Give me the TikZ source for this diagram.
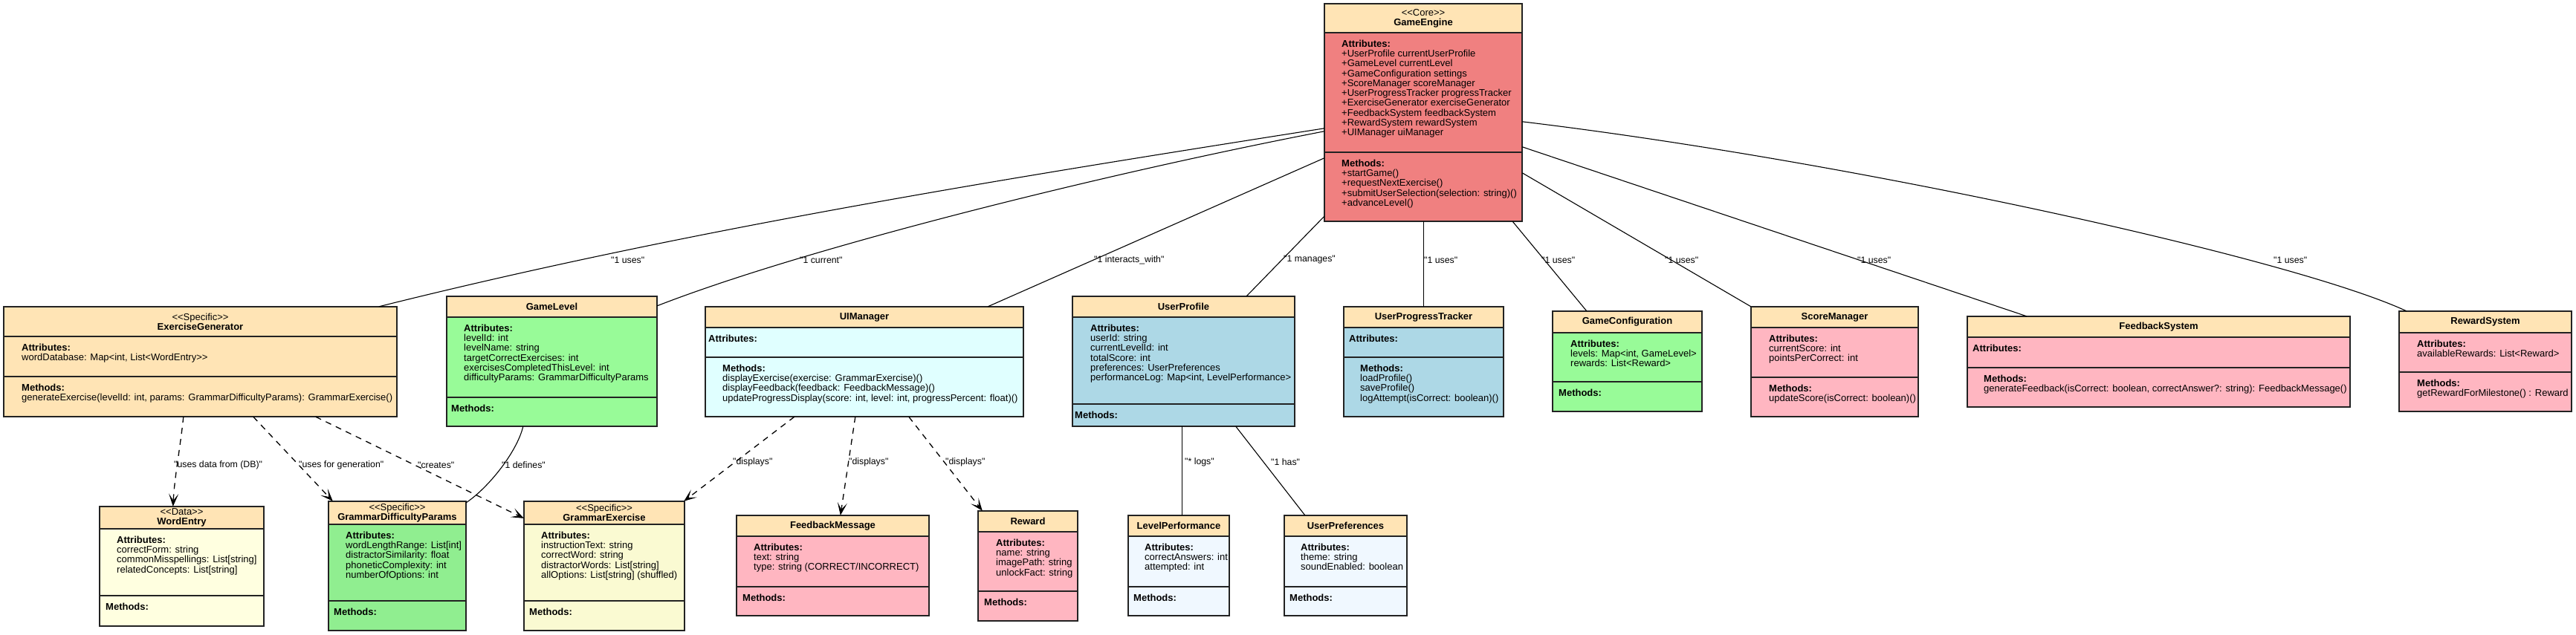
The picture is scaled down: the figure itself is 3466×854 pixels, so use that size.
\documentclass[tikz,border=0pt]{standalone}
\usepackage{fontspec}
\newfontfamily\lsans{Liberation Sans}
\usetikzlibrary{arrows.meta,fit}
\definecolor{moccasin}{HTML}{FFE4B5}
\definecolor{lcoral}{HTML}{F08080}
\definecolor{pgreen}{HTML}{98FB98}
\definecolor{lgreen}{HTML}{90EE90}
\definecolor{lcyan}{HTML}{E0FFFF}
\definecolor{lblue}{HTML}{ADD8E6}
\definecolor{lpink}{HTML}{FFB6C1}
\definecolor{lyellow}{HTML}{FFFFE0}
\definecolor{lgold}{HTML}{FAFAD2}
\definecolor{aliceb}{HTML}{F0F8FF}
\definecolor{bordercol}{HTML}{222222}
\tikzset{
 boxborder/.style={draw=bordercol, line width=1.6pt},
 sepline/.style={draw=bordercol, line width=1.6pt},
 htext/.style={font=\lsans\fontsize{13}{13}\selectfont, align=center, inner sep=0pt},
 stext/.style={font=\lsans\fontsize{13}{13.3}\selectfont, align=left, inner sep=0pt, anchor=north west},
 assoc/.style={draw=black, line width=1.1pt},
 dep/.style={draw=black, line width=1.3pt, dash pattern=on 8pt off 7pt, -{Stealth[length=17pt,width=13pt,inset=9pt,line width=0.8pt]}},
 elabel/.style={font=\lsans\fontsize{12.3}{13}\selectfont, inner sep=0pt, anchor=west},
}
\newcommand\umlbox[9]{%
 \coordinate (#1-nw) at (#2,#4);
 \coordinate (#1-se) at (#3,#7);
 \node[fit=(#1-nw)(#1-se), inner sep=0pt, fill=#8] (#1) {};
 \fill[moccasin] (#1.north west) rectangle (#3,#5);
 \draw[sepline] (#2,#5) -- (#3,#5) (#2,#6) -- (#3,#6);
 \draw[boxborder] (#1.north west) rectangle (#1.south east);
 \node[htext] (#1-h) at ({(#2+#3)/2},{(#4+#5)/2}) {#9};
}
\newcommand\sect[4]{\node[stext] (#1) at (#2,#3) {#4};}
\begin{document}
\begin{tikzpicture}[x=1pt,y=-1pt]
\useasboundingbox (0,0) rectangle (3466,854);
\fill[white] (0,0) rectangle (3466,854);

% ---- boxes ----
\umlbox{ge}{1782}{2048}{5}{44}{205}{298}{lcoral}{<<Core>>\\\textbf{GameEngine}}
\sect{ge-a}{1805}{53.5}{\textbf{Attributes:}\\+UserProfile currentUserProfile\\+GameLevel currentLevel\\+GameConfiguration settings\\+ScoreManager scoreManager\\+UserProgressTracker progressTracker\\+ExerciseGenerator exerciseGenerator\\+FeedbackSystem feedbackSystem\\+RewardSystem rewardSystem\\+UIManager uiManager}
\sect{ge-m}{1805}{214.5}{\textbf{Methods:}\\+startGame()\\+requestNextExercise()\\+submitUserSelection(selection: string)()\\+advanceLevel()}

\umlbox{eg}{5}{534}{413}{453}{507}{561}{moccasin}{<<Specific>>\\\textbf{ExerciseGenerator}}
\sect{eg-a}{29}{462.5}{\textbf{Attributes:}\\wordDatabase: Map<int, List<WordEntry>>}
\sect{eg-m}{29}{516.5}{\textbf{Methods:}\\generateExercise(levelId: int, params: GrammarDifficultyParams): GrammarExercise()}

\umlbox{gl}{601}{884}{399}{427}{535}{574}{pgreen}{\textbf{GameLevel}}
\sect{gl-a}{624}{436.5}{\textbf{Attributes:}\\levelId: int\\levelName: string\\targetCorrectExercises: int\\exercisesCompletedThisLevel: int\\difficultyParams: GrammarDifficultyParams}
\sect{gl-m}{607}{544.5}{\textbf{Methods:}}

\umlbox{ui}{949}{1377}{413}{441}{481}{561}{lcyan}{\textbf{UIManager}}
\sect{ui-a}{953}{450.5}{\textbf{Attributes:}}
\sect{ui-m}{972}{490.5}{\textbf{Methods:}\\displayExercise(exercise: GrammarExercise)()\\displayFeedback(feedback: FeedbackMessage)()\\updateProgressDisplay(score: int, level: int, progressPercent: float)()}

\umlbox{up}{1443}{1742}{399}{427}{544}{574}{lblue}{\textbf{UserProfile}}
\sect{up-a}{1467}{436.5}{\textbf{Attributes:}\\userId: string\\currentLevelId: int\\totalScore: int\\preferences: UserPreferences\\performanceLog: Map<int, LevelPerformance>}
\sect{up-m}{1446}{553.5}{\textbf{Methods:}}

\umlbox{upt}{1808}{2023}{413}{441}{481}{561}{lblue}{\textbf{UserProgressTracker}}
\sect{upt-a}{1815}{450.5}{\textbf{Attributes:}}
\sect{upt-m}{1830}{490.5}{\textbf{Methods:}\\loadProfile()\\saveProfile()\\logAttempt(isCorrect: boolean)()}

\umlbox{gc}{2089}{2290}{419}{448}{514}{554}{pgreen}{\textbf{GameConfiguration}}
\sect{gc-a}{2113}{457.5}{\textbf{Attributes:}\\levels: Map<int, GameLevel>\\rewards: List<Reward>}
\sect{gc-m}{2097}{523.5}{\textbf{Methods:}}

\umlbox{sm}{2356}{2581}{413}{441}{508}{561}{lpink}{\textbf{ScoreManager}}
\sect{sm-a}{2380}{450.5}{\textbf{Attributes:}\\currentScore: int\\pointsPerCorrect: int}
\sect{sm-m}{2380}{517.5}{\textbf{Methods:}\\updateScore(isCorrect: boolean)()}

\umlbox{fs}{2647}{3162}{426}{454}{495}{548}{lpink}{\textbf{FeedbackSystem}}
\sect{fs-a}{2654}{463.5}{\textbf{Attributes:}}
\sect{fs-m}{2669}{504.5}{\textbf{Methods:}\\generateFeedback(isCorrect: boolean, correctAnswer?: string): FeedbackMessage()}

\umlbox{rs}{3228}{3460}{419}{448}{501}{554}{lpink}{\textbf{RewardSystem}}
\sect{rs-a}{3252}{457.5}{\textbf{Attributes:}\\availableRewards: List<Reward>}
\sect{rs-m}{3252}{510.5}{\textbf{Methods:}\\getRewardForMilestone() : Reward}

\umlbox{we}{134}{355}{682}{712}{802}{843}{lyellow}{<<Data>>\\\textbf{WordEntry}}
\sect{we-a}{157}{721.5}{\textbf{Attributes:}\\correctForm: string\\commonMisspellings: List[string]\\relatedConcepts: List[string]}
\sect{we-m}{142}{811.5}{\textbf{Methods:}}

\umlbox{gdp}{442}{627}{675}{706}{809}{849}{lgreen}{<<Specific>>\\\textbf{GrammarDifficultyParams}}
\sect{gdp-a}{465}{715.5}{\textbf{Attributes:}\\wordLengthRange: List[int]\\distractorSimilarity: float\\phoneticComplexity: int\\numberOfOptions: int}
\sect{gdp-m}{449}{818.5}{\textbf{Methods:}}

\umlbox{gex}{705}{921}{675}{706}{809}{849}{lgold}{<<Specific>>\\\textbf{GrammarExercise}}
\sect{gex-a}{728}{715.5}{\textbf{Attributes:}\\instructionText: string\\correctWord: string\\distractorWords: List[string]\\allOptions: List[string] (shuffled)}
\sect{gex-m}{712}{818.5}{\textbf{Methods:}}

\umlbox{fm}{991}{1250}{694}{722}{790}{829}{lpink}{\textbf{FeedbackMessage}}
\sect{fm-a}{1014}{731.5}{\textbf{Attributes:}\\text: string\\type: string (CORRECT/INCORRECT)}
\sect{fm-m}{999}{799.5}{\textbf{Methods:}}

\umlbox{rw}{1316}{1450}{688}{716}{796}{836}{lpink}{\textbf{Reward}}
\sect{rw-a}{1340}{725.5}{\textbf{Attributes:}\\name: string\\imagePath: string\\unlockFact: string}
\sect{rw-m}{1324}{805.5}{\textbf{Methods:}}

\umlbox{lp}{1518}{1654}{694}{722}{790}{829}{aliceb}{\textbf{LevelPerformance}}
\sect{lp-a}{1540}{731.5}{\textbf{Attributes:}\\correctAnswers: int\\attempted: int}
\sect{lp-m}{1525}{799.5}{\textbf{Methods:}}

\umlbox{upr}{1728}{1893}{694}{722}{790}{829}{aliceb}{\textbf{UserPreferences}}
\sect{upr-a}{1750}{731.5}{\textbf{Attributes:}\\theme: string\\soundEnabled: boolean}
\sect{upr-m}{1735}{799.5}{\textbf{Methods:}}

% ---- associations from GameEngine ----
\draw[assoc] ([yshift=-168pt]ge.north west) .. controls +(-420,66) and +(420,-105) .. ([xshift=505pt]eg.north west);
\draw[assoc] ([yshift=-172pt]ge.north west) .. controls +(-300,58) and +(200,-78) .. ([yshift=-13pt]gl.north east);
\draw[assoc] ([yshift=-208pt]ge.north west) -- ([xshift=-48pt]ui.north east);
\draw[assoc] ([yshift=7pt]ge.south west) -- ([xshift=-65pt]up.north east);
\draw[assoc] ([xshift=134pt]ge.south west) -- ([xshift=108pt]upt.north west);
\draw[assoc] ([xshift=-13pt]ge.south east) -- ([xshift=46pt]gc.north west);
\draw[assoc] ([yshift=-228pt]ge.north east) -- (sm.north west);
\draw[assoc] ([yshift=-193pt]ge.north east) -- ([xshift=80pt]fs.north west);
\draw[assoc] ([yshift=-159pt]ge.north east) .. controls +(450,54) and +(-150,-70) .. ([xshift=10pt]rs.north west);

\node[elabel] (l-eg) at (822,350) {"1 uses"};
\node[elabel] (l-gl) at (1076,350) {"1 current"};
\node[elabel] (l-ui) at (1472,350) {"1 interacts\_with"};
\node[elabel] (l-up) at (1727,350) {"1 manages"};
\node[elabel] (l-upt) at (1916,350) {"1 uses"};
\node[elabel] (l-gc) at (2074,350) {"1 uses"};
\node[elabel] (l-sm) at (2240,350) {"1 uses"};
\node[elabel] (l-fs) at (2499,350) {"1 uses"};
\node[elabel] (l-rs) at (3059,350) {"1 uses"};

% ---- lower connectors ----
\draw[dep] ([xshift=242pt]eg.south west) .. controls +(-4,40) and +(2,-40) .. ([xshift=99pt]we.north west);
\draw[dep] ([xshift=336pt]eg.south west) -- ([xshift=6pt]gdp.north west);
\draw[dep] ([xshift=420pt]eg.south west) -- ([yshift=-23pt]gex.north west);
\draw[assoc] ([xshift=103pt]gl.south west) .. controls +(-8,34) and +(30,-20) .. ([yshift=-2pt]gdp.north east);
\draw[dep] ([xshift=120pt]ui.south west) -- ([xshift=-1pt]gex.north east);
\draw[dep] ([xshift=202pt]ui.south west) -- ([xshift=140pt]fm.north west);
\draw[dep] ([xshift=274pt]ui.south west) -- ([xshift=6pt]rw.north west);
\draw[assoc] ([xshift=148pt]up.south west) -- ([xshift=73pt]lp.north west);
\draw[assoc] ([xshift=220pt]up.south west) -- ([xshift=28pt]upr.north west);

\node[elabel] (l-we) at (234,626) {"uses data from (DB)"};
\node[elabel] (l-gdp) at (402,626) {"uses for generation"};
\node[elabel] (l-gex) at (562,626) {"creates"};
\node[elabel] (l-def) at (675,626) {"1 defines"};
\node[elabel] (l-d1) at (986,622) {"displays"};
\node[elabel] (l-d2) at (1142,622) {"displays"};
\node[elabel] (l-d3) at (1272,622) {"displays"};
\node[elabel] (l-lp) at (1594,622) {"* logs"};
\node[elabel] (l-upr) at (1710,622) {"1 has"};
\end{tikzpicture}
\end{document}
